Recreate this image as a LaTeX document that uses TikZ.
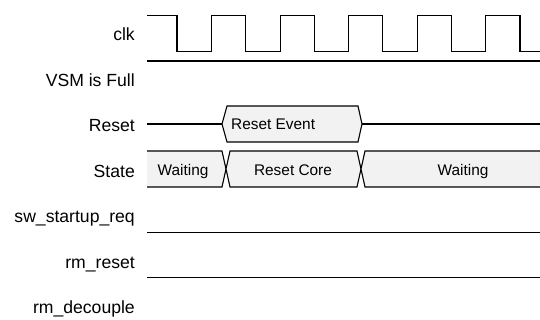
\documentclass[tikz,border=0pt]{standalone}
\usepackage{fontspec}
\setmainfont{Liberation Sans}
\definecolor{busfill}{RGB}{242,242,242}
\tikzset{
	siglabel/.style={anchor=base east, inner sep=0pt, font=\fontsize{17.6}{20}\selectfont},
	bustext/.style={anchor=base, inner sep=0pt, font=\fontsize{15.4}{18}\selectfont},
	wave/.style={line width=1.1pt, line join=miter},
}

\begin{document}
\begin{tikzpicture}[x=1pt, y=-1pt]
			%%%%% START %%%%%
			\useasboundingbox (0, 0) rectangle (540, 320);
			
			\node[siglabel] (lclk) at (135, 41) {clk};
			\node[siglabel] (lvsm) at (135, 86.4) {VSM is Full};
			\node[siglabel] (lreset) at (135, 131.8) {Reset};
			\node[siglabel] (lstate) at (135, 177.2) {State};
			\node[siglabel] (lswreq) at (135, 222.6) {sw\_startup\_req};
			\node[siglabel] (lrmreset) at (135, 268) {rm\_reset};
			\node[siglabel] (lrmdec) at (135, 313.4) {rm\_decouple};
			
			\draw[wave] (147, 15.5) foreach \i in {0,...,4} {
				-- ({177+68.6*\i}, 15.5) -- ({177+68.6*\i}, 51.5)
				-- ({211.5+68.6*\i}, 51.5) -- ({211.5+68.6*\i}, 15.5)}
				-- (520, 15.5) -- (520, 51.5) -- (540, 51.5);
			
			\draw[wave] (147, 61) -- (540, 61);
			
			\draw[wave] (147, 124) -- (222, 124);
			\filldraw[wave, fill=busfill] (222, 124) -- (227, 106) -- (358, 106) -- (362, 124) -- (358, 142) -- (227, 142) -- cycle;
			\draw[wave] (362, 124) -- (540, 124);
			\node[bustext, anchor=base west] (tevent) at (231, 130) {Reset Event};
			
			\filldraw[wave, fill=busfill] (147, 151) -- (222, 151) -- (226, 169) -- (222, 187) -- (147, 187);
			\filldraw[wave, fill=busfill] (230, 151) -- (357, 151) -- (361, 169) -- (357, 187) -- (230, 187) -- (226, 169) -- cycle;
			\filldraw[wave, fill=busfill] (540, 151) -- (365, 151) -- (361, 169) -- (365, 187) -- (540, 187);
			\node[bustext] (twait) at (183, 175.5) {Waiting};
			\node[bustext] (tcore) at (293, 175.5) {Reset Core};
			\node[bustext] (twaitb) at (463, 175.5) {Waiting};
			
			\draw[wave] (147, 232.5) -- (540, 232.5);
			\draw[wave] (147, 277.5) -- (540, 277.5);
			
			%%%%% END %%%%%
\end{tikzpicture}
\end{document}
